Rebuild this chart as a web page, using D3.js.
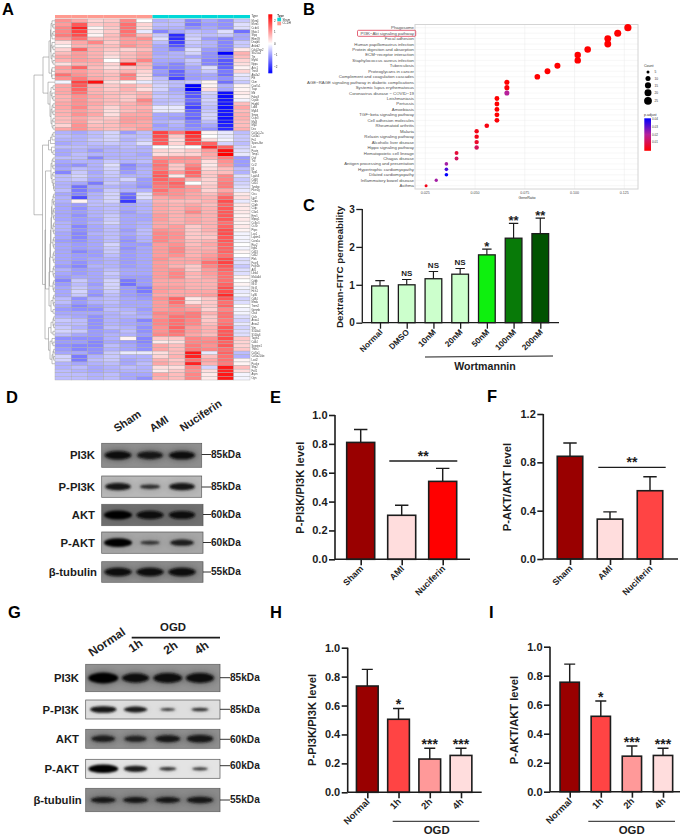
<!DOCTYPE html>
<html><head><meta charset="utf-8">
<script src="https://cdn.jsdelivr.net/npm/d3@7/dist/d3.min.js"></script>
<style>html,body{margin:0;padding:0;background:#fff}svg{display:block}text{font-family:"Liberation Sans",Arial,sans-serif}</style>
</head><body><svg id="c" width="685" height="836" viewBox="0 0 685 836"></svg>
<script>
// ---------- Panel A data: z-score x10 ----------
const heatRows = [
[10,8,4,5,11,0,-7,-6,-11,-8,-10,-5],[9,15,5,6,13,4,-6,-6,-12,-9,-10,-3],[11,20,1,5,13,3,-7,-7,-10,-8,-10,-3],
[11,17,2,5,13,-2,-11,-8,-6,-7,-3,-13],[12,16,1,6,12,6,-5,-19,-5,-6,-5,-8],[9,13,6,6,9,10,-3,-19,-4,-9,-11,-8],
[3,8,11,5,9,8,-6,-17,-5,-7,-11,-5],[1,7,7,6,10,8,-8,-15,-6,-7,-11,-5],[4,14,7,5,4,6,-8,-11,-3,-9,-11,2],
[6,9,7,4,6,8,-8,-7,-4,-10,-23,7],[8,9,7,3,6,8,-7,-7,-8,-10,-13,6],[7,9,8,0,7,11,-8,-8,-5,-11,-15,4],
[3,7,7,4,20,7,-9,-11,-6,-11,-15,3],[9,14,6,3,5,6,-11,-11,-8,-3,-14,1],[8,9,7,5,7,4,-9,-14,-8,-5,-12,4],
[13,10,7,6,12,3,-10,-14,-9,-8,-13,-2],[10,12,8,6,11,3,-6,-17,-9,-8,-10,-3],[-1,17,22,3,1,-2,-5,-6,-5,1,-13,-5],
[8,15,7,5,7,5,-4,-6,-23,1,-7,1],[8,14,7,5,7,3,-4,-8,-23,3,-8,1],[8,13,7,6,6,7,-6,-7,-15,-4,-22,2],
[7,10,8,6,5,7,-5,-6,-15,-5,-22,1],[7,10,7,6,5,11,-6,-6,-13,-4,-21,-1],[8,10,8,6,7,9,-6,-5,-15,-5,-21,6],
[8,11,7,4,7,7,-2,-2,-17,-6,-22,8],[7,9,7,3,6,8,-2,-2,-14,-5,-21,6],[7,10,8,3,8,8,-8,-8,-13,-4,-21,7],
[6,8,6,5,9,9,-8,-9,-14,-4,-22,7],[6,9,5,6,9,8,-7,-6,-11,-6,-21,6],[4,10,6,6,8,8,-9,-7,-11,-8,-20,6],
[8,10,7,6,7,9,-8,-8,-10,-10,-19,7],
[-7,-8,-6,-4,-9,-6,17,12,20,1,-2,-6],[-6,-7,-6,-4,-6,-6,16,5,18,0,-2,-5],[-7,-7,-5,-4,-7,-5,15,3,17,3,-1,-5],
[-8,-7,-6,-5,-6,-3,15,4,16,14,-4,-6],[-6,-6,-7,-7,-6,-7,0,1,0,19,14,-4],[-8,-7,-9,-7,-7,-7,4,3,5,9,22,-3],
[-8,-6,-7,-7,-7,-8,3,4,4,8,23,-2],[-6,-6,-11,-7,-7,-7,10,10,10,7,12,-9],[-8,-7,-7,-5,-7,-6,12,9,9,3,10,-9],
[-9,-10,-7,-3,-11,-8,13,5,11,2,9,-9],[-8,-6,-7,-4,-10,-7,12,5,13,3,6,-6],[-11,-5,-8,-5,-9,-7,14,9,14,5,6,-7],
[-6,-4,-7,-5,-7,-7,15,2,13,5,11,-3],[-6,-5,-8,-6,-4,-9,14,12,7,4,11,-5],[-7,-8,-12,-5,-7,-9,13,14,0,4,12,-4],
[-7,-13,-8,-7,-8,-10,12,13,9,5,12,-3],[-6,-12,-9,-5,-7,-7,13,10,9,4,8,-2],[-8,-11,-7,-4,-13,-3,11,10,8,6,11,2],
[-7,-16,-7,-4,-14,-3,8,9,8,7,14,3],[-7,1,-6,-4,-18,-6,7,6,6,7,16,-2],[-8,-9,-6,-6,-8,-7,8,7,8,6,14,2],
[-8,-10,-7,-6,-8,-7,8,7,9,7,15,2],[-8,-9,-7,-6,-9,-7,8,7,11,7,15,2],[-8,-10,-7,-5,-8,-8,9,7,8,7,15,1],
[-8,-9,-8,-5,-8,-8,9,7,8,7,15,2],[-7,-9,-7,-4,-8,-7,8,7,8,7,13,1],[-7,-11,-8,-6,-8,-7,8,9,5,7,14,2],
[-7,-10,-8,-6,-9,-6,10,9,5,7,16,1],[-8,-11,-7,-6,-8,-6,11,10,5,6,16,-1],[-8,-11,-8,-6,-9,-7,11,10,5,5,15,-1],
[-9,-10,-8,-6,-10,-7,11,9,6,7,15,-1],[-8,-9,-8,-4,-9,-9,9,10,6,8,14,0],[-8,-9,-8,-5,-10,-8,9,11,7,7,14,-1],
[-8,-11,-9,-5,-9,-8,9,11,7,8,14,1],[-8,-9,-9,-6,-9,-8,9,10,7,9,13,0],[-8,-9,-8,-7,-9,-8,10,8,8,10,16,-3],
[-8,-10,-8,-7,-9,-8,9,8,8,13,17,-3],[-9,-11,-7,-7,-9,-8,9,7,5,11,15,-5],[-7,-9,-8,-6,-8,-8,9,10,5,9,14,-3],
[-8,-9,-8,-5,-8,-8,9,11,7,9,13,-3],[-9,-8,-8,-6,-9,-9,9,11,6,8,13,1],[-11,-5,-8,-4,-12,-9,8,8,7,7,13,0],
[-9,-6,-9,-4,-13,-9,8,8,7,7,14,1],[-8,-5,-8,-4,-9,-12,9,9,7,7,16,-1],[-8,-4,-9,-5,-9,-12,9,8,8,8,16,-2],
[-8,-5,-10,-6,-9,-10,8,8,8,9,19,-1],[-6,-10,-7,-6,-8,-9,10,14,2,5,15,-4],[-6,-9,-7,-6,-8,-8,9,13,3,5,13,-3],
[-8,-11,-9,-7,-8,-8,9,11,8,5,14,0],[-9,-10,-10,-6,-7,-9,9,10,9,4,11,-1],[-8,-8,-8,-7,-6,-8,11,11,12,7,13,-1],
[-7,-8,-10,-7,-7,-7,10,13,12,5,13,-3],[-5,-6,-10,-7,-8,-11,11,13,11,5,12,-4],[-6,-6,-10,-7,-8,-9,11,13,11,6,13,-2],
[-5,-7,-10,-6,-7,-10,10,14,9,7,15,-4],[-4,-5,-9,-8,-6,-10,10,13,9,7,15,-3],[-6,-8,-9,-7,-7,-9,11,12,8,6,15,-3],
[-10,-10,-10,-7,1,-11,5,5,11,10,16,5],[-9,-9,-11,-8,-9,-11,2,3,11,11,14,4],[-10,-11,-11,-6,-8,-10,8,6,12,10,15,4],
[-9,-11,-10,-7,-8,-10,8,6,12,11,13,5],[-8,-8,-10,-5,-2,-2,3,6,21,-2,14,-6],[-4,-12,-7,-5,-7,-7,4,7,20,6,13,-7],
[-4,-12,-6,-5,-8,-7,7,5,13,8,13,1],[-7,-8,-7,-6,-8,-6,8,6,20,7,12,1],[-7,-6,-8,-7,-6,-7,3,3,11,-4,21,6],
[-6,-7,-8,-7,-7,-7,2,5,10,3,20,3],[-6,-6,-7,-6,-8,-8,8,6,11,2,21,-1],[-6,-6,-7,-6,-8,-10,7,6,11,2,21,-1]];
const rowLabels = "Mcm4 Mcm5 Ccdc6 Nfatc1 Sfpq Rbm39 Dnajb6 Ankrd2 Cdc42ep2 Slc25a4 Ttn Myh6 Nppa Actc1 Tnni3 Atp2a2 Pln Ckm Cox7a1 Tcap Mb Fabp3 Cryab Hspb6 Ldb3 Mylk3 Smpx Csrp3 Myl3 Myl2 Des Col1a1-2a Col3a1 Fn1 Sparc-like Lox Postn Timp1 Ctgf Tnc Ccl2 Il6 Spp1 Lgals3 Cd68 Cd14 Tyrobp Fcer1g Ctss Lyz2 C1qa C1qb C1qc C3ar1 Emr1 Mpeg1 Cx3cr1 Csf1r Ptprc Lcp1 Laptm5 Coro1a Rac2 Itgb2 Cd53 Cd52 Plek Fcgr3 Fcgr2b Aif1 Lilrb4 Ms4a6d Cybb Ncf2 Ncf4 Hcls1 Ly86 Cd84 Mnda Trem2 Gpnmb Ctsd Ctsb Anxa1 Anxa2 Vim S100a4 S100a6 Tagln2 Cd44 Serpine1 Thbs1 Col5a1 Col5a2-like Loxl2 Pcolce Sfrp2 Fstl1 Aspn Ogn".split(" ");
const sampleGroups = ["CCDH","CCDH","CCDH","CCDH","CCDH","CCDH","Sham","Sham","Sham","Sham","Sham","Sham"];
const heatLegendTicks = [-2,-1,0,1,2];
// dendrogram: [height, left, right]; 0 = leaf
const B4 = [2,[1.3,0,0],[1.3,0,0]];
const dendroTree = [21,
 [12,
  [6,[4.5,[4,[3,0,[2,0,0]],[3,[2,0,0],0]],[4,[3,0,[2,0,0]],[3,[2,0,0],[2,0,0]]]],[3.5,[3,0,0],[3,0,0]]],
  [7,0,[5,[4,[2,0,0],[3,0,[2,0,0]]],[4,[3,[2,0,0],[2,0,0]],[3,[2,0,0],[2,0,0]]]]]],
 [12.5,
  [6.5,[4.5,[3,[2,0,0],0],0],[3.5,0,[2,0,0]]],
  [10,
   [9.5,[4,[3,[2,0,0],[2,0,0]],[3,[2,0,0],[2,0,[1.5,0,[1,0,0]]]]],
    [6,[5.5,[5,[4.5,[4,[3.5,[3,B4,B4],B4],B4],B4],B4],B4],[4,B4,[2,0,0]]]],
   [6.5,[4,B4,[2,0,0]],[5,[3,0,[2,0,0]],[3,B4,0]]]]]];

// ---------- Panel B data ----------
const pathways = ["Phagosome","PI3K−Akt signaling pathway","Focal adhesion","Human papillomavirus infection","Protein digestion and absorption","ECM−receptor interaction","Staphylococcus aureus infection","Tuberculosis","Proteoglycans in cancer","Complement and coagulation cascades","AGE−RAGE signaling pathway in diabetic complications","Systemic lupus erythematosus","Coronavirus disease − COVID−19","Leishmaniasis","Pertussis","Amoebiasis","TGF−beta signaling pathway","Cell adhesion molecules","Rheumatoid arthritis","Malaria","Relaxin signaling pathway","Alcoholic liver disease","Hippo signaling pathway","Hematopoietic cell lineage","Chagas disease","Antigen processing and presentation","Hypertrophic cardiomyopathy","Dilated cardiomyopathy","Inflammatory bowel disease","Asthma"];
const geneRatio = [.1268,.1217,.1167,.1167,.1066,.1016,.1016,.0914,.0864,.0813,.066,.066,.066,.061,.061,.061,.061,.061,.0559,.0508,.0508,.0508,.0508,.0407,.0407,.0356,.0356,.0356,.0305,.0254];
const geneCount = [25,24,23,23,21,20,20,18,17,16,13,13,13,12,12,12,12,12,11,10,10,10,10,8,8,7,7,7,6,5];
const pAdjust = [.001,.001,.001,.001,.001,.001,.001,.001,.001,.001,.001,.002,.02,.001,.001,.001,.001,.002,.003,.004,.004,.006,.012,.008,.013,.022,.032,.04,.022,.004];
const ratioTicks = [.025,.05,.075,.1,.125];
const countLegend = [5,10,15,20,25];
const pLegend = [.01,.02,.03,.04];

// ---------- Panel C data ----------
const cCats = ["Normal","DMSO","10nM","20nM","50nM","100nM","200nM"];
const cVals = [.97,1,1.16,1.28,1.79,2.23,2.35];
const cTops = [1.11,1.14,1.35,1.43,1.94,2.62,2.76];
const cSig = ["","NS","NS","NS","*","**","**"];
const cColors = ["#ccffcc","#ccffcc","#ccffcc","#ccffcc","#0ef00e","#087a08","#005200"];
// ---------- Panels E,F ----------
const efCats = ["Sham","AMI","Nuciferin"];
const eVals = [.81,.305,.54], eTops = [.9,.375,.63];
const fVals = [.85,.33,.565], fTops = [.96,.39,.68];
const eColors = ["#990000","#ffdddd","#ff0000"], fColors = ["#990000","#ffdddd","#ff4444"];
// ---------- Panels H,I ----------
const hiCats = ["Normal","1h","2h","4h"];
const hVals = [.735,.505,.23,.255], hTops = [.85,.58,.305,.305];
const iVals = [.755,.52,.245,.25], iTops = [.88,.625,.315,.3];
const hiSig = ["","*","***","***"];
const hiColors = ["#990000","#ff4444","#ff9999","#ffdddd"];
// ---------- Blots: band strength per lane ----------
const dProteins = ["PI3K","P-PI3K","AKT","P-AKT","β-tubulin"];
const dMass = ["85kDa","85kDa","60kDa","60kDa","55kDa"];
const dBands = [[.92,.85,.88],[.85,.55,.85],[1,.95,.9],[1,.5,.75],[.95,.95,.95]];
const gBands = [[1,.88,.95,.92],[.85,.75,.42,.5],[.75,.7,.8,.85],[1,.75,.5,.45],[.8,.8,.8,.85]];

const svg = d3.select("#c"), INK="#1c1c1c";
const defs = svg.append("defs");
defs.append("filter").attr("id","bl").attr("x","-30%").attr("y","-60%").attr("width","160%").attr("height","220%").append("feGaussianBlur").attr("stdDeviation",1.1);
defs.append("filter").attr("id","bl2").attr("x","-30%").attr("y","-80%").attr("width","160%").attr("height","260%").append("feGaussianBlur").attr("stdDeviation",2.6);
defs.append("filter").attr("id","soft").attr("x","-2%").attr("y","-2%").attr("width","104%").attr("height","104%").append("feGaussianBlur").attr("stdDeviation",.35);
const txt=(g,x,y,s,o={})=>g.append("text").attr("x",x).attr("y",y).text(s).attr("font-size",o.size||10).attr("font-weight",o.w||"bold").attr("fill",o.fill||INK).attr("text-anchor",o.anchor||"start").attr("dominant-baseline",o.base||"auto").attr("transform",o.rot!=null?`rotate(${o.rot} ${x} ${y})`:null);

// Panel letters
[["A",2,15],["B",303,15],["C",303,211],["D",6,403],["E",270,403],["F",487,402],["G",8,618],["H",270,618],["I",489,618]].forEach(([l,x,y])=>txt(svg,x,y,l,{size:16.5,fill:"#000"}));

// ---------- A ----------
(function(){
 const g=svg.append("g").attr("filter","url(#soft)");
 const x=d3.scaleBand().domain(d3.range(12)).range([55,250]);
 const y=d3.scaleBand().domain(d3.range(heatRows.length)).range([19,380]);
 const col=d3.scaleLinear().domain([-23,0,23]).range(["#0000ff","#ffffff","#ff0000"]);
 const typeCol=d3.scaleOrdinal().domain(["Sham","CCDH"]).range(["#00d8d8","#ff9a90"]);
 g.selectAll(".t").data(sampleGroups).join("rect").attr("x",(d,i)=>x(i)).attr("y",15).attr("width",x.bandwidth()).attr("height",3.3).attr("fill",d=>typeCol(d));
 heatRows.forEach((r,ri)=>{
  g.append("g").selectAll("rect").data(r).join("rect").attr("x",(d,i)=>x(i)).attr("y",y(ri)).attr("width",x.bandwidth()).attr("height",y.bandwidth()).attr("fill",d=>col(d)).attr("stroke","#a9a9a9").attr("stroke-width",.4);
 });
 g.selectAll(".rl").data(rowLabels).join("text").attr("x",251.5).attr("y",(d,i)=>y(i)+y.bandwidth()/2+.9).text(d=>d).attr("font-size",2.6).attr("fill","#444");
 txt(g,251.5,17.4,"Type",{size:2.9,w:"normal",fill:"#333"});
 // dendrogram
 const root=d3.hierarchy(dendroTree,d=>Array.isArray(d)?d.slice(1):null);
 const hx=d3.scaleLinear().domain([0,21]).range([55,34]);
 let li=0;
 root.eachAfter(n=>{ if(!n.children){n.py=y(li)+y.bandwidth()/2;n.ph=0;li++;} else {n.py=d3.mean(n.children,c=>c.py);n.ph=n.data[0];}});
 const p=d3.path();
 root.each(n=>{ if(n.children){ const [a,b]=n.children;
   p.moveTo(hx(a.ph),a.py);p.lineTo(hx(n.ph),a.py);p.lineTo(hx(n.ph),b.py);p.lineTo(hx(b.ph),b.py);} });
 g.append("path").attr("d",p.toString()).attr("fill","none").attr("stroke","#8a8a8a").attr("stroke-width",.55);
 // colour legend
 const gid="hg";const lg=defs.append("linearGradient").attr("id",gid).attr("x1",0).attr("x2",0).attr("y1",0).attr("y2",1);
 [["#ff0000",0],["#ffffff",.5],["#0000ff",1]].forEach(([c,o])=>lg.append("stop").attr("offset",o).attr("stop-color",c));
 g.append("rect").attr("x",268.3).attr("y",14.3).attr("width",4).attr("height",59).attr("fill",`url(#${gid})`);
 const ly=d3.scaleLinear().domain([-2,2]).range([67,20.7]);
 heatLegendTicks.forEach(t=>txt(g,274,ly(t)+1,t===-1||t===-2?"−"+Math.abs(t):t,{size:3,w:"normal",fill:"#333"}));
 txt(g,277.3,16.6,"Type",{size:2.9,w:"bold",fill:"#333"});
 [["Sham",17.7],["CCDH",21.6]].forEach(([s,yy])=>{g.append("rect").attr("x",277.3).attr("y",yy).attr("width",3.8).attr("height",3.7).attr("fill",typeCol(s));txt(g,282.5,yy+2.8,s,{size:2.9,w:"normal",fill:"#333"});});
})();

// ---------- B ----------
(function(){
 const g=svg.append("g");
 const x=d3.scaleLinear().domain([.025,.125]).range([425.3,624.3]);
 const y=d3.scalePoint().domain(pathways).range([27.7,185.7]);
 const r=d3.scaleSqrt().domain([5,25]).range([1.5,3.6]);
 const col=d3.scaleLinear().domain([.001,.02,.04]).range(["#ff0000","#b6209a","#0000ff"]);
 g.append("rect").attr("x",415).attr("y",24.5).attr("width",223).attr("height",164.5).attr("fill","#fff");
 ratioTicks.forEach(t=>g.append("line").attr("x1",x(t)).attr("x2",x(t)).attr("y1",24.5).attr("y2",189).attr("stroke","#ebebeb").attr("stroke-width",.5));
 pathways.forEach(p=>g.append("line").attr("x1",415).attr("x2",638).attr("y1",y(p)).attr("y2",y(p)).attr("stroke","#ebebeb").attr("stroke-width",.4));
 g.append("rect").attr("x",415).attr("y",24.5).attr("width",223).attr("height",164.5).attr("fill","none").attr("stroke","#d4d4d4").attr("stroke-width",1);
 pathways.forEach((p,i)=>{
  txt(g,414,y(p)+1.5,p,{size:4.3,w:"normal",anchor:"end",fill:"#4d4d4d"});
  g.append("circle").attr("cx",x(geneRatio[i])).attr("cy",y(p)).attr("r",r(geneCount[i])).attr("fill",col(pAdjust[i]));
 });
 ratioTicks.forEach(t=>txt(g,x(t),193.6,t.toFixed(3),{size:3.6,w:"normal",anchor:"middle",fill:"#4d4d4d"}));
 txt(g,527,198.8,"GeneRatio",{size:3.6,w:"normal",anchor:"middle",fill:"#333"});
 g.append("rect").attr("x",357.5).attr("y",30.3).attr("width",58.2).attr("height",6).attr("rx",1).attr("fill","none").attr("stroke","#d8203c").attr("stroke-width",.7);
 txt(g,644,67,"Count",{size:3.6,w:"normal",fill:"#333"});
 const cy=d3.scaleOrdinal().domain(countLegend).range([72,78.4,85.4,92.8,100.8]);
 countLegend.forEach(c=>{g.append("circle").attr("cx",648).attr("cy",cy(c)).attr("r",r(c)+(c>5?.3:0)).attr("fill","#000");txt(g,654.5,cy(c)+1.2,c,{size:3.2,w:"normal",fill:"#333"});});
 txt(g,644,116,"p.adjust",{size:3.6,w:"normal",fill:"#333"});
 const lg=defs.append("linearGradient").attr("id","pg").attr("x1",0).attr("x2",0).attr("y1",0).attr("y2",1);
 [["#0000ff",0],["#b6209a",.5],["#ff0000",1]].forEach(([c,o])=>lg.append("stop").attr("offset",o).attr("stop-color",c));
 g.append("rect").attr("x",644.3).attr("y",118.3).attr("width",6.7).attr("height",32.5).attr("fill","url(#pg)");
 const py=d3.scaleLinear().domain([.01,.04]).range([142.3,118.7]);
 pLegend.forEach(t=>txt(g,652,py(t)+1.1,t.toFixed(2),{size:3,w:"normal",fill:"#333"}));
})();

// ---------- bar panels ----------
function barPanel(o){
 const g=svg.append("g");
 const y=d3.scaleLinear().domain([0,o.max]).range([o.y0,o.y1]);
 const x=d3.scalePoint().domain(o.cats).range(o.xr);
 const lw=o.lw||1.6;
 o.cats.forEach((c,i)=>{
  const cx=x(c);
  g.append("path").attr("d",`M${cx},${y(o.vals[i])}V${y(o.tops[i])}M${cx-o.cap},${y(o.tops[i])}H${cx+o.cap}`).attr("stroke",INK).attr("stroke-width",lw*.9).attr("fill","none");
  g.append("rect").attr("x",cx-o.bw/2).attr("y",y(o.vals[i])).attr("width",o.bw).attr("height",o.y0-y(o.vals[i])).attr("fill",o.colors[i]).attr("stroke",INK).attr("stroke-width",lw);
 });
 const ay=d3.axisLeft(y).tickValues(o.ticks).tickFormat(o.fmt).tickSize(6).tickPadding(1.5);
 const gy=g.append("g").attr("transform",`translate(${o.ax},0)`).call(ay);
 gy.selectAll("text").attr("font-size",o.tickSize||11).attr("font-weight","bold").attr("fill",INK);
 gy.selectAll("line,path").attr("stroke",INK).attr("stroke-width",lw);
 gy.select(".domain").attr("d",`M0,${o.y0}V${o.y1}`);
 const ax=d3.axisBottom(x).tickSize(6).tickFormat("");
 const gx=g.append("g").attr("transform",`translate(0,${o.y0})`).call(ax);
 gx.selectAll("line").attr("stroke",INK).attr("stroke-width",lw);
 gx.select(".domain").attr("d",`M${o.ax},0H${o.xe}`).attr("stroke",INK).attr("stroke-width",lw);
 o.cats.forEach(c=>txt(g,x(c)+(o.lx||3),o.y0+(o.ly||10),c,{size:o.labSize||8.8,anchor:"end",rot:-45,w:"bold",fill:"#222"}));
 txt(g,o.ylx,o.yly,o.ylabel,{size:o.ylSize||11.2,anchor:"middle",rot:-90});
 if(o.sig) o.sig.forEach((s,i)=>{ if(!s)return; const ns=s==="NS"; txt(g,x(o.cats[i]),y(o.tops[i])+(ns?-3.5:o.starDy),s,{size:ns?8:o.starSize,anchor:"middle"}); });
 if(o.extra) o.extra(g,x,y);
 return g;
}
const f1=d3.format(".1f");
barPanel({cats:cCats,vals:cVals,tops:cTops,colors:cColors,sig:cSig,starDy:2,starSize:13,max:3,y0:322.7,y1:209,ax:362.3,xe:559,xr:[380,540.3],bw:16.7,cap:4.7,ticks:[0,1,2,3],fmt:d3.format("d"),ylabel:"Dextran-FITC permeability",ylx:342.5,yly:267,ylSize:9.8,labSize:8.2,lx:3,ly:10,lw:1.3,tickSize:10,
 extra:g=>{g.append("line").attr("x1",425).attr("x2",553).attr("y1",357).attr("y2",356).attr("stroke",INK).attr("stroke-width",1);txt(g,485,370,"Wortmannin",{size:10.6,anchor:"middle"});}});
function sigBar(g,x1,x2,yy,s,ty){g.append("line").attr("x1",x1).attr("x2",x2).attr("y1",yy).attr("y2",yy).attr("stroke",INK).attr("stroke-width",1.3);txt(g,(x1+x2)/2,ty,s,{size:14,anchor:"middle"});}
barPanel({cats:efCats,vals:eVals,tops:eTops,colors:eColors,max:1,y0:559.3,y1:415,ax:335,xe:470,xr:[360.7,442.7],bw:28,cap:6.7,ticks:[0,.2,.4,.6,.8,1],fmt:f1,ylabel:"P-PI3K/PI3K level",ylx:304,yly:487.7,
 extra:g=>sigBar(g,389.3,457.3,461,"**",461)});
barPanel({cats:efCats,vals:fVals,tops:fTops,colors:fColors,max:1.2,y0:559,y1:414,ax:543.3,xe:678,xr:[570,650],bw:25.5,cap:6.7,ticks:[0,.4,.8,1.2],fmt:f1,ylabel:"P-AKT/AKT level",ylx:511,yly:487,
 extra:g=>sigBar(g,598.3,665.7,467.3,"**",467)});
barPanel({cats:hiCats,vals:hVals,tops:hTops,colors:hiColors,sig:hiSig,starDy:.5,starSize:14,max:1,y0:792.3,y1:647.7,ax:347.7,xe:481.7,xr:[367.3,461],bw:21.7,cap:5.5,ticks:[0,.2,.4,.6,.8,1],fmt:f1,ylabel:"P-PI3K/PI3K level",ylx:316,yly:720,labSize:9.4,
 extra:g=>{g.append("line").attr("x1",392.7).attr("x2",479.3).attr("y1",821.3).attr("y2",821.3).attr("stroke",INK).attr("stroke-width",1);txt(g,436.7,834.3,"OGD",{size:11.4,anchor:"middle"});}});
barPanel({cats:hiCats,vals:iVals,tops:iTops,colors:hiColors,sig:hiSig,starDy:.5,starSize:14,max:1,y0:791.7,y1:646.7,ax:550,xe:680,xr:[569.7,663],bw:19.3,cap:5.5,ticks:[0,.2,.4,.6,.8,1],fmt:f1,ylabel:"P-AKT/AKT level",ylx:518,yly:720,labSize:9.4,
 extra:g=>{g.append("line").attr("x1",588.3).attr("x2",675).attr("y1",821.3).attr("y2",821.3).attr("stroke",INK).attr("stroke-width",1);txt(g,631.7,834.3,"OGD",{size:11.4,anchor:"middle"});}});

// ---------- blots ----------
function blot(o){
 const g=svg.append("g");
 const x=d3.scalePoint().domain(d3.range(o.bands[0].length)).range(o.lane);
 const rx=d3.scaleLinear().domain([.3,1]).range([o.rxMin,o.rxMax]);
 const ry=d3.scaleLinear().domain([.3,1]).range([1.1,o.ryMax]);
 const dark=d3.scaleLinear().domain([.3,1]).range(["#444","#050505"]);
 o.rows.forEach((r,ri)=>{
  const mid=(r.y0+r.y1)/2;
  const clip="cl"+o.id+ri;
  defs.append("clipPath").attr("id",clip).append("rect").attr("x",r.x0).attr("y",r.y0).attr("width",r.x1-r.x0).attr("height",r.y1-r.y0);
  const rg=g.append("g").attr("clip-path",`url(#${clip})`);
  rg.append("rect").attr("x",r.x0).attr("y",r.y0).attr("width",r.x1-r.x0).attr("height",r.y1-r.y0).attr("fill",r.bg);
  o.bands[ri].forEach((v,i)=>{
   rg.append("ellipse").attr("cx",x(i)).attr("cy",mid).attr("rx",rx(v)+3).attr("ry",ry(v)*r.k+2.5).attr("fill","#333").attr("opacity",r.halo).attr("filter","url(#bl2)");
   rg.append("ellipse").attr("cx",x(i)).attr("cy",mid).attr("rx",rx(v)).attr("ry",ry(v)*r.k).attr("fill",dark(v)).attr("filter","url(#bl)");
  });
  g.append("rect").attr("x",r.x0).attr("y",r.y0).attr("width",r.x1-r.x0).attr("height",r.y1-r.y0).attr("fill","none").attr("stroke","#555").attr("stroke-width",.7);
  txt(g,r.lx,mid+4,dProteins[ri],{size:11.3,anchor:"end"});
  g.append("line").attr("x1",r.x1).attr("x2",r.mx).attr("y1",r.my).attr("y2",r.my).attr("stroke",INK).attr("stroke-width",.9);
  txt(g,r.mx,r.my+3.4,dMass[ri],{size:10.1});
 });
 return g;
}
blot({id:"d",bands:dBands,lane:[118,182],rxMin:8,rxMax:14,ryMax:4.6,rows:[
 {x0:101.7,x1:201.7,y0:443.3,y1:467.3,bg:"#8e8e8e",k:1,halo:.35,lx:95,mx:211,my:454.5},
 {x0:101.7,x1:201.7,y0:476,y1:497.3,bg:"#b8b8b8",k:.95,halo:.12,lx:95,mx:211,my:487},
 {x0:101.7,x1:203,y0:504.3,y1:525.7,bg:"#6f6f6f",k:1,halo:.15,lx:95,mx:211,my:514.5},
 {x0:101.7,x1:203,y0:532,y1:553.3,bg:"#a6a6a6",k:.95,halo:.12,lx:95,mx:211,my:542.5},
 {x0:101.7,x1:203,y0:561.7,y1:582.3,bg:"#8c8c8c",k:.95,halo:.3,lx:97,mx:211,my:572}]});
blot({id:"g",bands:gBands,lane:[103.3,200],rxMin:6,rxMax:15,ryMax:5.4,rows:[
 {x0:85.7,x1:220,y0:664.3,y1:691.7,bg:"#929292",k:1,halo:.3,lx:79,mx:230,my:677.7},
 {x0:85.7,x1:220,y0:700,y1:719,bg:"#dedede",k:.75,halo:.04,lx:79,mx:230,my:709.3},
 {x0:85.7,x1:220,y0:729.3,y1:748.3,bg:"#8f8f8f",k:.85,halo:.3,lx:79,mx:230,my:739.3},
 {x0:85.7,x1:220,y0:759.3,y1:778.3,bg:"#e4e4e4",k:.8,halo:.04,lx:79,mx:230,my:765.7},
 {x0:85.7,x1:220,y0:788.3,y1:811.7,bg:"#8a8a8a",k:.7,halo:.3,lx:81.7,mx:230,my:800}]});
// blot heads
[["Sham",117,432.6],["AMI",152.7,432.6],["Nuciferin",183,432]].forEach(([s,x,y])=>txt(svg,x,y,s,{size:11,rot:-34,fill:"#222"}));
[["Normal",92,657],["1h",132,653],["2h",167,655],["4h",198,655]].forEach(([s,x,y])=>txt(svg,x,y,s,{size:12,rot:-34,fill:"#222"}));
txt(svg,173,631,"OGD",{size:11.4,anchor:"middle"});
svg.append("line").attr("x1",131.7).attr("x2",220).attr("y1",637.7).attr("y2",637.7).attr("stroke",INK).attr("stroke-width",1.8);
</script></body></html>
